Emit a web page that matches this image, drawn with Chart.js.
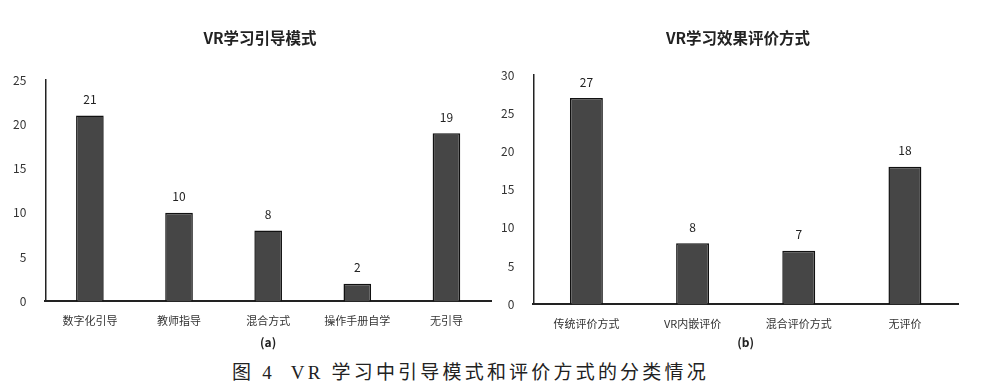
<!DOCTYPE html>
<html>
<head>
<meta charset="utf-8">
<script src="https://cdn.jsdelivr.net/npm/chart.js@4"></script>
<style>
    body { margin: 0; background: #fff; width: 987px; height: 392px; position: relative; overflow: hidden; }
    .caja { position: absolute; top: 0; }
    #caja1 { left: 0; width: 500px; height: 355px; }
    #caja2 { left: 500px; width: 487px; height: 355px; }
    .titulo {
        position: absolute; top: 27px; width: 300px; text-align: center;
        font-family: "Noto Sans CJK SC", "Noto Sans", sans-serif;
        font-size: 15.5px; font-weight: bold; color: #222; line-height: 20px;
    }
    #titulo1 { left: 110px; }
    #titulo2 { left: 588px; }
    #pie {
        position: absolute; left: 232px; top: 357px; white-space: nowrap;
        font-family: "Liberation Serif", "DejaVu Serif", "Noto Sans CJK SC", serif;
        font-size: 19px; letter-spacing: 3.2px; color: #222;
    }
</style>
</head>
<body>
<div class="caja" id="caja1"><canvas id="grafica1"></canvas></div>
<div class="caja" id="caja2"><canvas id="grafica2"></canvas></div>
<div class="titulo" id="titulo1">VR学习引导模式</div>
<div class="titulo" id="titulo2">VR学习效果评价方式</div>
<div id="pie">图 4&nbsp;&nbsp;VR 学习中引导模式和评价方式的分类情况</div>

<script>
// datos de la grafica (a)
const categoriasGuia = ['数字化引导', '教师指导', '混合方式', '操作手册自学', '无引导'];
const valoresGuia = [21, 10, 8, 2, 19];
const ticksGuia = [0, 5, 10, 15, 20, 25];

// datos de la grafica (b)
const categoriasEval = ['传统评价方式', 'VR内嵌评价', '混合评价方式', '无评价'];
const valoresEval = [27, 8, 7, 18];
const ticksEval = [0, 5, 10, 15, 20, 25, 30];

const fuente = '"Noto Sans CJK SC", "Noto Sans", sans-serif';

// etiquetas encima de cada barra
const etiquetas = {
    id: 'etiquetas',
    afterDatasetsDraw(chart) {
        const ctx = chart.ctx;
        const meta = chart.getDatasetMeta(0);
        ctx.save();
        ctx.font = '12px ' + fuente;
        ctx.fillStyle = '#222';
        ctx.textAlign = 'center';
        ctx.textBaseline = 'middle';
        meta.data.forEach((barra, i) => {
            ctx.fillText(chart.data.datasets[0].data[i], barra.x, barra.y - 16);
        });
        ctx.restore();
    }
};

function crearGrafica(id, sub, categorias, valores, ticks, padding, subPad) {
    const max = ticks[ticks.length - 1];
    return new Chart(document.getElementById(id), {
        type: 'bar',
        data: {
            labels: categorias,
            datasets: [{
                data: valores,
                backgroundColor: '#464646',
                borderColor: '#111',
                borderWidth: 1.5,
                categoryPercentage: 1,
                barPercentage: 0.31
            }]
        },
        options: {
            responsive: true,
            maintainAspectRatio: false,
            animation: false,
            layout: { padding: padding },
            plugins: {
                legend: { display: false },
                tooltip: { enabled: false }
            },
            scales: {
                x: {
                    grid: { display: false },
                    border: { display: true, color: '#222', width: 2 },
                    ticks: { color: '#333', padding: 5, font: { family: fuente, size: 11 } },
                    title: {
                        display: true, text: sub, color: '#222',
                        font: { family: fuente, size: 12, weight: 'bold' },
                        padding: { top: subPad, bottom: 0 }
                    }
                },
                y: {
                    min: 0,
                    max: max,
                    afterBuildTicks: (eje) => { eje.ticks = ticks.map(v => ({ value: v })); },
                    grid: { display: false },
                    border: { display: true, color: '#222', width: 1.5 },
                    ticks: { color: '#333', padding: 11, font: { family: fuente, size: 12 } }
                }
            }
        },
        plugins: [etiquetas]
    });
}

document.addEventListener('DOMContentLoaded', function () {
    crearGrafica('grafica1', '(a)', categoriasGuia, valoresGuia, ticksGuia,
        { left: 2, right: 9, top: 80, bottom: 5 }, 3);
    crearGrafica('grafica2', '(b)', categoriasEval, valoresEval, ticksEval,
        { left: -10, right: 29, top: 75, bottom: 5 }, 0);
});
</script>
</body>
</html>
